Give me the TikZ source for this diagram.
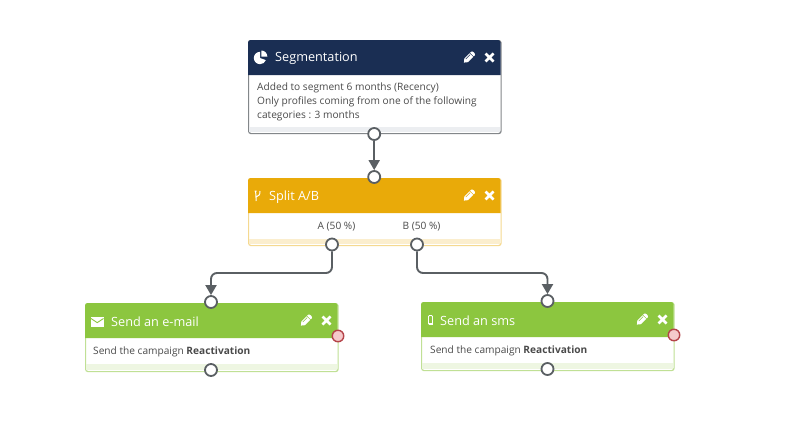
\documentclass[tikz,border=0pt]{standalone}
\usepackage{fontspec}
\setmainfont{Open Sans}
\usetikzlibrary{arrows.meta}
\definecolor{navy}{HTML}{1A2E53}
\definecolor{amber}{HTML}{E9AA09}
\definecolor{leaf}{HTML}{8CC63F}
\definecolor{port}{HTML}{5A5F63}
\definecolor{txt}{HTML}{4A4A4A}
\definecolor{redport}{HTML}{B5444A}
\definecolor{redfill}{HTML}{F5C9CB}
\definecolor{paleband}{HTML}{ECEEF1}
\tikzset{
  x=1pt,y=-1pt,
  boxshape/.style={draw=#1,line width=1.2pt,rounded corners=2.5pt,fill=white,minimum width=252.5pt,inner sep=0pt,anchor=north west},
  porthole/.style={circle,draw=port,line width=1.8pt,fill=white,minimum size=12pt,inner sep=0pt},
  errport/.style={circle,draw=redport,line width=1.4pt,fill=redfill,minimum size=11.5pt,inner sep=0pt},
  title/.style={text=white,font=\fontsize{12.7}{15}\selectfont,anchor=west,inner sep=0pt},
  body/.style={text=txt,font=\fontsize{10.15}{14.2}\selectfont,anchor=north west,inner sep=0pt,align=left},
  link/.style={draw=port,line width=1.9pt,rounded corners=6pt,-{Triangle[length=10pt,width=11pt]}},
}
\newcommand{\boxdeco}[7]{%
  % #1 x, #2 top, #3 header bottom, #4 band top, #5 box bottom, #6 header colour, #7 band colour
  \fill[#7] (#1+.6,#4) rectangle (#1+251.9,#5-.6);
  \fill[#6] (#1,#3) -- (#1,#2+2.5) arc[start angle=180,end angle=270,radius=2.5] -- (#1+250,#2)
     arc[start angle=270,end angle=360,radius=2.5] -- (#1+252.5,#3) -- cycle;
  % pencil
  \begin{scope}[shift={(#1+221,#2+17.5)},rotate=45]
    \fill[white] (-7.2,0) -- (-4,-2.6) -- (3.4,-2.6) -- (3.4,2.6) -- (-4,2.6) -- cycle;
    \fill[white] (4.2,-2.6) -- (5.8,-2.6) .. controls (7.4,-2.6) and (7.4,2.6) .. (5.8,2.6) -- (4.2,2.6) -- cycle;
    \draw[#6,line width=.45pt] (-3.4,-1.2) -- (3,-1.2);
  \end{scope}
  % cross
  \draw[white,line width=2.6pt] (#1+237.5,#2+13.5) -- (#1+245.5,#2+21.5) (#1+245.5,#2+13.5) -- (#1+237.5,#2+21.5);
}
\begin{document}
\begin{tikzpicture}
\useasboundingbox (0,0) rectangle (800,447);
\fill[white] (0,0) rectangle (800,447);

\coordinate (elbowA) at (272,273);
\coordinate (elbowB) at (482,273);

% Segmentation
\node[boxshape=port!75,minimum height=93pt] (segbox) at (248,40) {};
\boxdeco{248}{40}{75}{127}{133}{navy}{paleband}
\fill[white] (260,58) -- (260,51.8) arc[start angle=270,end angle=90,radius=6.2] arc[start angle=90,end angle=20,radius=6.2] -- cycle;
\fill[white] (261.3,50.5) arc[start angle=270,end angle=360,radius=6] -- (261.3,56.5) -- cycle;
\node[title] (segtitle) at (275,58.5) {Segmentation};
\node[body] (segtext) at (257,82.5) {Added to segment 6 months (Recency)\\Only profiles coming from one of the following\\categories : 3 months};

% Split
\node[boxshape=amber!45,minimum height=67pt] (splitbox) at (248,178) {};
\boxdeco{248}{178}{213}{239}{245}{amber}{amber!20}
\draw[white,line width=1pt] (254.5,191) -- (256.5,191) (255.6,191) -- (256.2,201) (256,197) .. controls (259,196) and (260,195) .. (260,191);
\node[title] (splittitle) at (269,197) {Split A/B};
\node[body,anchor=center] (labA) at (336.5,227) {A (50 \%)};
\node[body,anchor=center] (labB) at (421.5,227) {B (50 \%)};

% Send an e-mail
\node[boxshape=leaf!55,minimum height=68pt] (mailbox) at (85,303) {};
\boxdeco{85}{303}{338}{364}{371}{leaf}{leaf!15}
\fill[white] (91,316.5) rectangle (103.5,326.5);
\draw[leaf,line width=.9pt] (91,318.5) -- (97.25,322.7) -- (103.5,318.5);
\node[title] (mailtitle) at (111,322) {Send an e-mail};
\node[body] (mailtext) at (93,346.5) {Send the campaign \textbf{Reactivation}};

% Send an sms
\node[boxshape=leaf!55,minimum height=68pt] (smsbox) at (421,302) {};
\boxdeco{421}{302}{337}{363}{370}{leaf}{leaf!15}
\draw[white,line width=.9pt,rounded corners=1pt] (428.5,315.5) rectangle (432.5,324.5);
\fill[white] (428.5,323) rectangle (432.5,324.5);
\node[title] (smstitle) at (440,321) {Send an sms};
\node[body] (smstext) at (430,345.5) {Send the campaign \textbf{Reactivation}};

% Ports
\node[porthole] (segout) at (374.2,134) {};
\node[porthole] (splitin) at (374.2,177) {};
\node[porthole] (splitA) at (332,244.5) {};
\node[porthole] (splitB) at (417,244.5) {};
\node[porthole] (mailin) at (211,302) {};
\node[porthole] (mailout) at (211,370) {};
\node[porthole] (smsin) at (547.5,301) {};
\node[porthole] (smsout) at (547.5,369) {};
\node[errport] (mailerr) at (338,336) {};
\node[errport] (smserr) at (674,335) {};

% Connectors
\draw[link] (segout) -- (splitin);
\draw[link] (splitA) |- (elbowA) -| (mailin);
\draw[link] (splitB) |- (elbowB) -| (smsin);
\end{tikzpicture}
\end{document}
